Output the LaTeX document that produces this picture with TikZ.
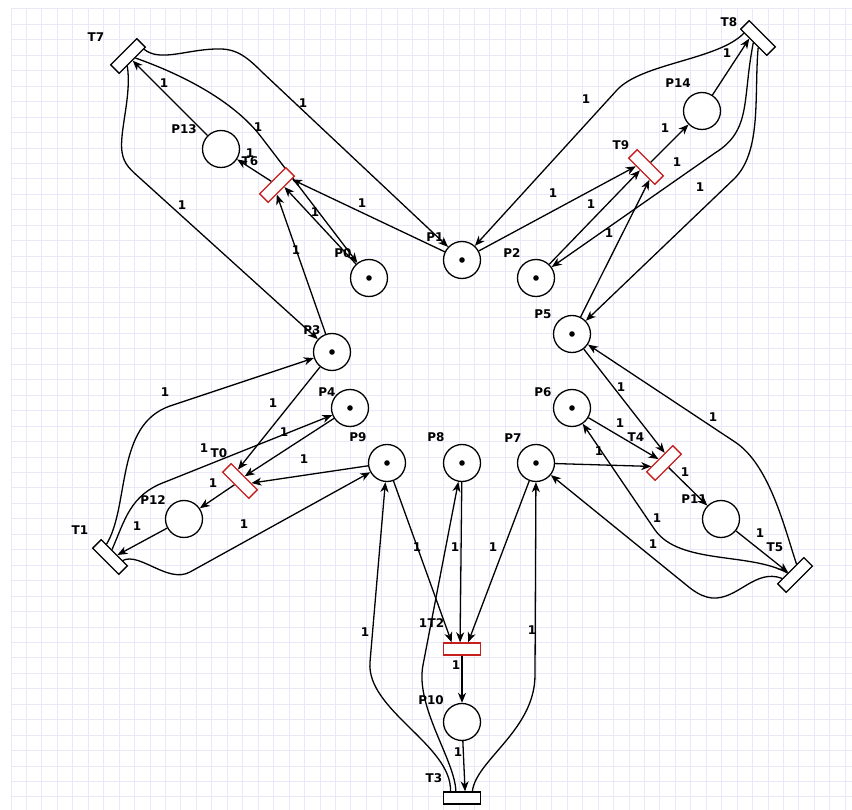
\documentclass[tikz,border=0pt]{standalone}
\usepackage{fontspec}
\setmainfont{DejaVu Sans}
\usetikzlibrary{arrows.meta,calc}
\pgfdeclarelayer{gridlayer}
\pgfdeclarelayer{arclayer}
\pgfsetlayers{gridlayer,arclayer,main}
\definecolor{gridc}{RGB}{232,232,248}
\definecolor{tred}{RGB}{200,30,30}
\begin{document}
\begin{tikzpicture}[x=1pt,y=-1pt,
  place/.style={circle,draw,line width=1.3pt,fill=white,minimum size=37pt,inner sep=0pt},
  trans/.style={rectangle,draw,line width=1.3pt,fill=white,minimum width=37pt,minimum height=12pt,inner sep=0pt},
  redtrans/.style={trans,draw=tred},
  arc/.style={line width=1.3pt,-{Stealth[length=10pt,width=8pt,inset=3pt]}},
  lbl/.style={font=\bfseries\fontsize{12}{14}\selectfont,inner sep=0pt},
  tok/.style={fill=black}]
\useasboundingbox (0,0) rectangle (852,810);
\begin{pgfonlayer}{gridlayer}
\fill[white] (0,0) rectangle (852,810);
\foreach \i in {0,...,54} {\draw[gridc,line width=1pt] ({11+15.45*\i},9) -- ({11+15.45*\i},810);}
\foreach \j in {0,...,51} {\draw[gridc,line width=1pt] (11,{9+15.45*\j}) -- (852,{9+15.45*\j});}
\end{pgfonlayer}

% places
\node[place] (P0) at (369,278) {};
\node[place] (P1) at (462,260) {};
\node[place] (P2) at (536,278) {};
\node[place] (P3) at (332,352) {};
\node[place] (P4) at (350,408) {};
\node[place] (P5) at (572,334) {};
\node[place] (P6) at (572,408) {};
\node[place] (P7) at (536,463) {};
\node[place] (P8) at (462,463) {};
\node[place] (P9) at (387,463) {};
\node[place] (P10) at (462,722) {};
\node[place] (P11) at (721,519) {};
\node[place] (P12) at (184,519) {};
\node[place] (P13) at (221,149) {};
\node[place] (P14) at (702,111) {};
\foreach \p in {P0,P1,P2,P3,P4,P5,P6,P7,P8,P9} {\fill[tok] (\p.center) circle[radius=2.8pt];}

% transitions
\node[redtrans,rotate=-45] (T0) at (240,481) {};
\node[trans,rotate=-45] (T1) at (110,557) {};
\node[redtrans] (T2) at (462,649) {};
\node[trans] (T3) at (462,798) {};
\node[redtrans,rotate=45] (T4) at (664,463) {};
\node[trans,rotate=45] (T5) at (795,575) {};
\node[redtrans,rotate=45] (T6) at (277,185) {};
\node[trans,rotate=45] (T7) at (128,56) {};
\node[trans,rotate=-45] (T8) at (758,38) {};
\node[redtrans,rotate=-45] (T9) at (646,167) {};

\begin{pgfonlayer}{arclayer}
% T6
\draw[arc] (T6) -- (P13);
\draw[arc] (P0) -- ($(T6.south west)!0.6!(T6.south east)$);
\draw[arc] (P1) -- ($(T6.south west)!0.88!(T6.south east)$);
\draw[arc] (P3) -- ($(T6.south west)!0.32!(T6.south east)$);
% T7
\draw[arc] (P13) -- (T7);
\draw[arc] ($(T7.south west)!0.92!(T7.south east)$) .. controls (160,62) and (185,50) .. (215,49) .. controls (235,48) and (245,55) .. (262,72) -- (P1);
\draw[arc] ($(T7.south west)!0.6!(T7.south east)$) .. controls (175,72) and (232,98) .. (262,138) -- (P0);
\draw[arc] ($(T7.south west)!0.3!(T7.south east)$) .. controls (132,95) and (119,132) .. (122,152) .. controls (124,165) and (131,170) .. (142,180) -- (P3);
% T8
\draw[arc] (P14) -- ($(T8.south west)!0.35!(T8.south east)$);
\draw[arc] ($(T8.south west)!0.15!(T8.south east)$) .. controls (718,60) and (642,63) .. (617,90) -- (P1);
\draw[arc] ($(T8.south west)!0.5!(T8.south east)$) .. controls (742,100) and (752,130) .. (715,153) -- (P2);
\draw[arc] ($(T8.south west)!0.68!(T8.south east)$) .. controls (754,95) and (762,150) .. (735,178) -- (P5);
% T9
\draw[arc] (T9) -- (P14);
\draw[arc] (P1) -- ($(T9.south west)!0.3!(T9.south east)$);
\draw[arc] (P2) -- ($(T9.south west)!0.45!(T9.south east)$);
\draw[arc] (P5) -- ($(T9.south west)!0.8!(T9.south east)$);
% T0
\draw[arc] (P3) -- ($(T0.north west)!0.25!(T0.north east)$);
\draw[arc] (P4) -- ($(T0.north west)!0.5!(T0.north east)$);
\draw[arc] (P9) -- ($(T0.north west)!0.75!(T0.north east)$);
\draw[arc] (T0) -- (P12);
% T1
\draw[arc] (P12) -- ($(T1.north west)!0.6!(T1.north east)$);
\draw[arc] ($(T1.north west)!0.2!(T1.north east)$) .. controls (130,505) and (115,425) .. (170,406) -- (P3);
\draw[arc] ($(T1.north west)!0.4!(T1.north east)$) .. controls (125,520) and (130,495) .. (165,482) -- (P4);
\draw[arc] ($(T1.north west)!0.8!(T1.north east)$) .. controls (140,552) and (168,584) .. (190,572) -- (P9);
% T4
\draw[arc] (P5) -- ($(T4.north west)!0.7!(T4.north east)$);
\draw[arc] (P6) -- ($(T4.north west)!0.47!(T4.north east)$);
\draw[arc] (P7) -- ($(T4.north west)!0.2!(T4.north east)$);
\draw[arc] (T4) -- (P11);
% T5
\draw[arc] (P11) -- ($(T5.north west)!0.42!(T5.north east)$);
\draw[arc] ($(T5.north west)!0.73!(T5.north east)$) .. controls (785,530) and (770,465) .. (735,442) -- (P5);
\draw[arc] ($(T5.north west)!0.4!(T5.north east)$) .. controls (750,552) and (680,565) .. (655,530) -- (P6);
\draw[arc] ($(T5.north west)!0.2!(T5.north east)$) .. controls (755,568) and (738,600) .. (712,598) .. controls (704,597) and (698,594) .. (690,588) -- (P7);
% T2, T3
\draw[arc] (P9) -- ($(T2.north west)!0.23!(T2.north east)$);
\draw[arc] (P8) -- ($(T2.north west)!0.45!(T2.north east)$);
\draw[arc] (P7) -- ($(T2.north west)!0.66!(T2.north east)$);
\draw[arc] (T2) -- (P10);
\draw[arc] (P10) -- ($(T3.north west)!0.58!(T3.north east)$);
\draw[arc] ($(T3.north west)!0.2!(T3.north east)$) .. controls (452,745) and (366,710) .. (370,662) -- (P9);
\draw[arc] ($(T3.north west)!0.34!(T3.north east)$) .. controls (455,760) and (415,707) .. (423,665) -- (P8);
\draw[arc] ($(T3.north west)!0.77!(T3.north east)$) .. controls (476,760) and (535,730) .. (535,675) -- (P7);
\end{pgfonlayer}

% place labels
\node[lbl] (lP0) at (343,253) {P0};
\node[lbl] (lP1) at (435,237) {P1};
\node[lbl] (lP2) at (512,253) {P2};
\node[lbl] (lP3) at (312,330) {P3};
\node[lbl] (lP4) at (327,392) {P4};
\node[lbl] (lP5) at (543,314) {P5};
\node[lbl] (lP6) at (543,392) {P6};
\node[lbl] (lP7) at (513,438) {P7};
\node[lbl] (lP8) at (436,437) {P8};
\node[lbl] (lP9) at (358,437) {P9};
\node[lbl] (lP10) at (431,700) {P10};
\node[lbl] (lP11) at (694,499) {P11};
\node[lbl] (lP12) at (153,500) {P12};
\node[lbl] (lP13) at (184,129) {P13};
\node[lbl] (lP14) at (678,83) {P14};
% transition labels
\node[lbl] (lT0) at (219,453) {T0};
\node[lbl] (lT1) at (80,530) {T1};
\node[lbl] (lT2) at (436,623) {T2};
\node[lbl] (lT3) at (434,778) {T3};
\node[lbl] (lT4) at (636,437) {T4};
\node[lbl] (lT5) at (775,547) {T5};
\node[lbl] (lT6) at (250,161) {T6};
\node[lbl] (lT7) at (96,37) {T7};
\node[lbl] (lT8) at (729,22) {T8};
\node[lbl] (lT9) at (621,145) {T9};
% weights
\foreach \n/\x/\y in {w1/164/83, w2/303/103, w3/258/127, w4/250/153, w5/182/205, w6/315/212, w7/362/203, w8/296/250,
  w9/665/128, w10/727/53, w11/586/99, w12/553/193, w13/591/204, w14/609/233, w15/677/162, w16/700/187,
  w17/165/392, w18/273/403, w19/284/432, w20/204/448, w21/304/459, w22/213/483, w23/137/526, w24/244/524,
  w25/621/387, w26/620/423, w27/599/451, w28/685/472, w29/760/533, w30/713/417, w31/657/518, w32/653/544,
  w33/417/547, w34/455/547, w35/493/547, w36/456/665, w37/458/752, w38/365/632, w39/423/623, w40/532/630}
  {\node[lbl] (\n) at (\x,\y) {1};}
\end{tikzpicture}
\end{document}
